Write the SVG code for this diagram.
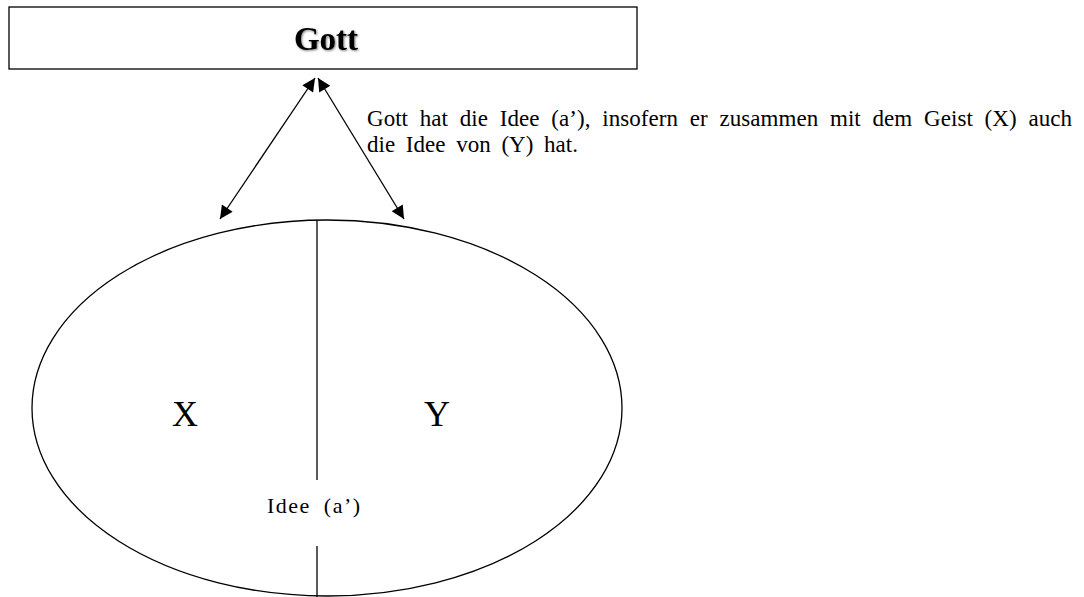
<svg xmlns="http://www.w3.org/2000/svg" width="1084" height="597" viewBox="0 0 1084 597">
<style>
.ln{stroke:#000;stroke-width:1.3;fill:none}
.ser{font-family:"Liberation Serif","Times New Roman",serif;fill:#000}
</style>
<defs>
<marker id="ah" viewBox="0 0 10 10" refX="10" refY="5" markerWidth="15" markerHeight="13" markerUnits="userSpaceOnUse" orient="auto-start-reverse">
<path d="M0,0 L10,5 L0,10 z" fill="#000"/>
</marker>
<filter id="sh" x="-20%" y="-20%" width="140%" height="140%">
<feDropShadow dx="1" dy="1" stdDeviation="1" flood-color="#000" flood-opacity="0.5"/>
</filter>
</defs>
<rect width="1084" height="597" fill="#fff"/>
<g id="gott">
<rect x="9" y="7" width="628" height="62" fill="#fff" stroke="#000" stroke-width="1.3"/>
<text x="326" y="50" class="ser" font-size="33" font-weight="bold" text-anchor="middle" filter="url(#sh)">Gott</text>
</g>
<g id="connectors">
<line class="ln" x1="315" y1="78" x2="220" y2="219" marker-start="url(#ah)" marker-end="url(#ah)"/>
<line class="ln" x1="318" y1="78" x2="404" y2="219" marker-start="url(#ah)" marker-end="url(#ah)"/>
</g>
<g id="note">
<text class="ser" font-size="23" x="367" y="126" textLength="705" lengthAdjust="spacing" word-spacing="6">Gott hat die Idee (a’), insofern er zusammen mit dem Geist (X) auch</text>
<text class="ser" font-size="23" x="367" y="152" word-spacing="5">die Idee von (Y) hat.</text>
</g>
<g id="geist">
<ellipse cx="327" cy="408" rx="295" ry="188" class="ln" stroke-width="2"/>
<line class="ln" x1="317" y1="220" x2="317" y2="480"/>
<line class="ln" x1="317" y1="546" x2="317" y2="597"/>
<text class="ser" font-size="36" x="185" y="426" text-anchor="middle">X</text>
<text class="ser" font-size="36" x="437" y="426" text-anchor="middle">Y</text>
<text class="ser" font-size="22" x="267" y="513" letter-spacing="1.5" word-spacing="6">Idee (a’)</text>
</g>
</svg>
